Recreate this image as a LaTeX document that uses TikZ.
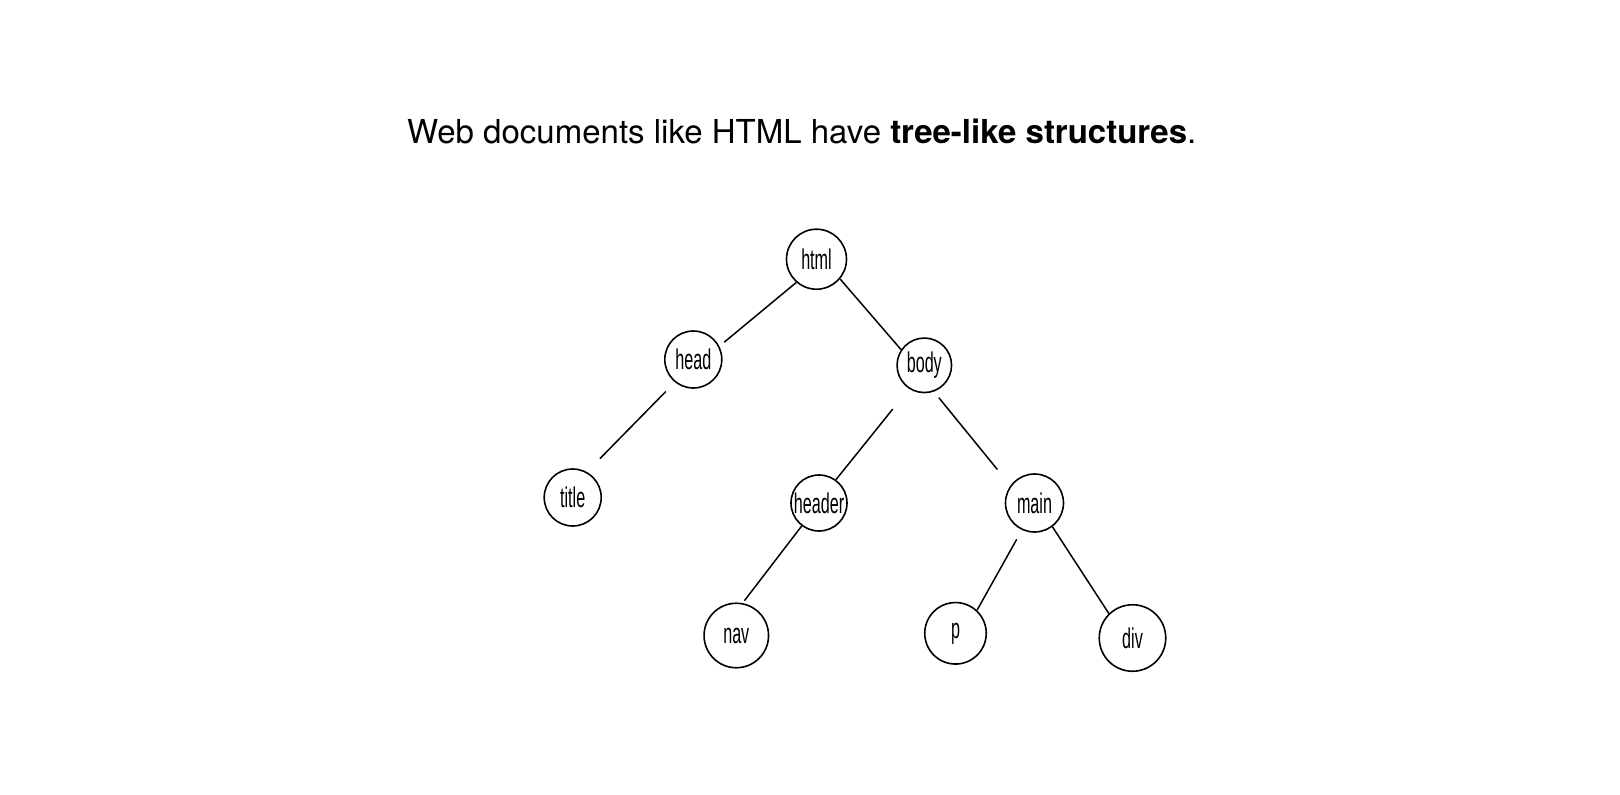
\documentclass[tikz,border=0pt]{standalone}
\usepackage{fontspec}
\setmainfont{TeX Gyre Heros}
\newfontfamily\labelfont{Liberation Sans}
\newcommand{\hw}[1]{\scalebox{0.85}[1.5]{\labelfont\fontsize{19}{19}\selectfont #1}}
\begin{document}
\begin{tikzpicture}[x=1pt,y=-1pt,
  tn/.style={circle,draw,line width=1.6pt,inner sep=0pt},
  edge/.style={line width=1.5pt}]
\useasboundingbox (0,0) rectangle (1620,795);
\node[anchor=base,font=\fontsize{33}{38}\selectfont] (ttl) at (801.8,143.6) {Web documents like HTML have \textbf{tree-like structures}.};
\node[tn,minimum size=60pt] (html) at (816.5,259.2) {\hw{html}};
\node[tn,minimum size=57pt] (head) at (693.3,359.5) {\hw{head}};
\node[tn,minimum size=54.5pt] (body) at (924.3,365.3) {\hw{body}};
\node[tn,minimum size=57pt] (title) at (572.7,497.5) {\hw{title}};
\node[tn,minimum size=56pt] (header) at (819,503) {\hw{header}};
\node[tn,minimum size=58pt] (main) at (1034.5,503) {\hw{main}};
\node[tn,minimum size=64.5pt] (nav) at (736.3,635.5) {\hw{nav}};
\node[tn,minimum size=61.5pt] (p) at (955.5,633.3) {\hw{p}};
\node[tn,minimum size=66.5pt] (div) at (1132.5,638) {\hw{div}};
\draw[edge,shorten >=6.3pt] (html.229.6) -- (head.27.1);
\draw[edge] (html.320.7) -- (body.146.9);
\draw[edge,shorten <=12.9pt,shorten >=18.6pt] (head.231) -- (title.61.8);
\draw[edge,shorten <=26pt] (body.237.4) -- (header.54.3);
\draw[edge,shorten <=7.8pt,shorten >=20.6pt] (body.-70.1) -- (main.144.9);
\draw[edge,shorten >=3pt] (header.233.9) -- (nav.79.8);
\draw[edge,shorten <=10.8pt] (main.245.6) -- (p.47.2);
\draw[edge] (main.-53.6) -- (div.134.4);
\end{tikzpicture}
\end{document}
